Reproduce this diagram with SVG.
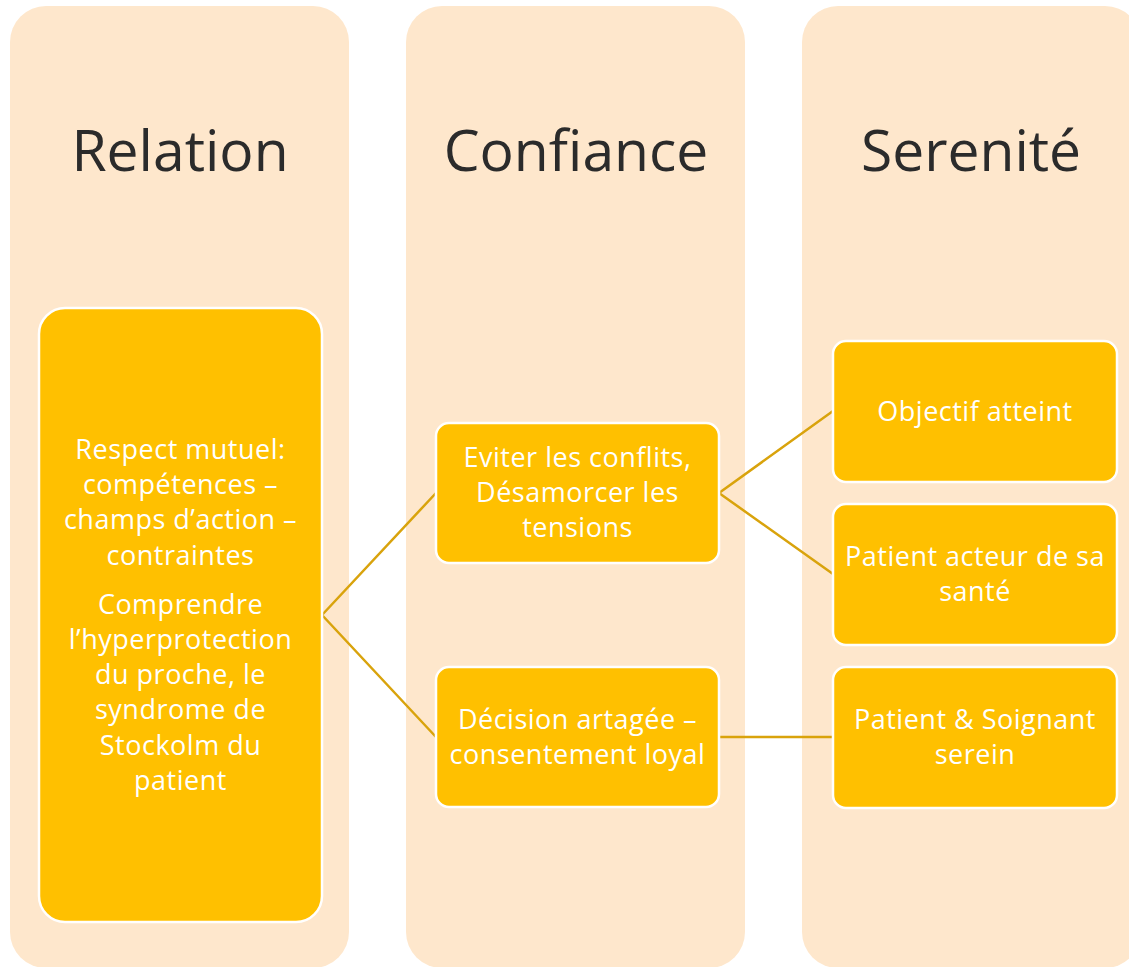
<svg xmlns="http://www.w3.org/2000/svg" width="1129" height="967" viewBox="0 0 1129 967">
<style>
.col{fill:#FEE7CC;}
.node{fill:#FFC000;stroke:#FFFFFF;stroke-width:2.5;}
.hdr{font-family:"Open Sans","Noto Sans",sans-serif;font-size:57px;fill:#2B2B2B;text-anchor:middle;}
.lbl{font-family:"Open Sans","Noto Sans",sans-serif;font-size:27px;letter-spacing:0.5px;fill:#FFFFFF;text-anchor:middle;}
.conn{stroke:#D9A30C;stroke-width:2.5;fill:none;}
</style>
<rect width="1129" height="967" fill="#FFFFFF"/>
<g id="col-relation"><rect class="col" x="10" y="6" width="339" height="962" rx="36"/><text class="hdr" x="180" y="171">Relation</text></g>
<g id="col-confiance"><rect class="col" x="406" y="6" width="339" height="962" rx="36"/><text class="hdr" x="576" y="171">Confiance</text></g>
<g id="col-serenite"><rect class="col" x="802" y="6" width="339" height="962" rx="36"/><text class="hdr" x="971" y="171">Serenité</text></g>
<g id="connectors">
<path class="conn" d="M322,615 L436,493 M322,615 L436,737 M719,493 L833,411 M719,493 L833,574 M719,737 L833,737"/>
</g>
<g id="node-respect"><rect class="node" x="39" y="308" width="283" height="614" rx="26"/>
<text class="lbl" x="180.5" y="459">Respect mutuel:</text>
<text class="lbl" x="180.5" y="494">compétences –</text>
<text class="lbl" x="180.5" y="529">champs d’action –</text>
<text class="lbl" x="180.5" y="565">contraintes</text>
<text class="lbl" x="180.5" y="614">Comprendre</text>
<text class="lbl" x="180.5" y="649">l’hyperprotection</text>
<text class="lbl" x="180.5" y="684">du proche, le</text>
<text class="lbl" x="180.5" y="719">syndrome de</text>
<text class="lbl" x="180.5" y="755">Stockolm du</text>
<text class="lbl" x="180.5" y="790">patient</text>
</g>
<g id="node-eviter"><rect class="node" x="436" y="423" width="283" height="140" rx="13"/>
<text class="lbl" x="577.5" y="467">Eviter les conflits,</text>
<text class="lbl" x="577.5" y="502">Désamorcer les</text>
<text class="lbl" x="577.5" y="537">tensions</text>
</g>
<g id="node-decision"><rect class="node" x="436" y="667" width="283" height="140" rx="13"/>
<text class="lbl" x="577.5" y="729">Décision artagée –</text>
<text class="lbl" x="577.5" y="764">consentement loyal</text>
</g>
<g id="node-objectif"><rect class="node" x="833" y="341" width="284" height="141" rx="13"/>
<text class="lbl" x="975" y="421">Objectif atteint</text>
</g>
<g id="node-acteur"><rect class="node" x="833" y="504" width="284" height="141" rx="13"/>
<text class="lbl" x="975" y="566">Patient acteur de sa</text>
<text class="lbl" x="975" y="601">santé</text>
</g>
<g id="node-serein"><rect class="node" x="833" y="667" width="284" height="141" rx="13"/>
<text class="lbl" x="975" y="729">Patient &amp; Soignant</text>
<text class="lbl" x="975" y="764">serein</text>
</g>
</svg>
